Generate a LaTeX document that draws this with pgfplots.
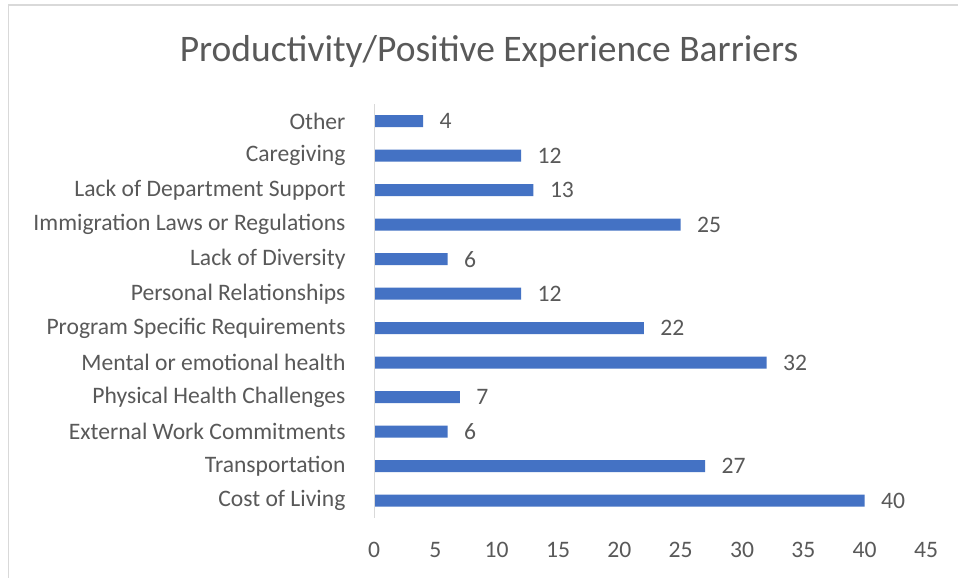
\documentclass[border=0pt]{standalone}
\usepackage{fontspec}
\setmainfont{Carlito}
\usepackage{pgfplots}
\pgfplotsset{compat=1.18}
\definecolor{barblue}{HTML}{4472C4}
\definecolor{txtgray}{HTML}{595959}
\definecolor{linegray}{HTML}{D9D9D9}
\newcommand{\lbl}{\fontsize{23.6}{27}\selectfont}
\begin{document}
\begin{tikzpicture}
\path[use as bounding box] (0pt,0pt) rectangle (958pt,578pt);
\fill[white] (0pt,0pt) rectangle (958pt,578pt);
% chart frame (only top and left edges are in the crop)
\draw[linegray, line width=1.5pt] (8.5pt,0pt) -- (8.5pt,573pt) -- (958pt,573pt);
\node[txtgray, font=\fontsize{37.5}{42}\selectfont] at (489pt,526pt) {Productivity/Positive Experience Barriers};
\begin{axis}[
    at={(374pt,60pt)}, anchor=south west,
    scale only axis,
    width=552pt, height=414pt,
    xbar,
    bar width=12pt,
    xmin=0, xmax=45,
    ymin=-0.5, ymax=11.5,
    xtick={0,5,...,45},
    ytick={0,...,11},
    yticklabels={Cost of Living, Transportation, External Work Commitments, Physical Health Challenges, Mental or emotional health, Program Specific Requirements, Personal Relationships, Lack of Diversity, Immigration Laws or Regulations, Lack of Department Support, Caregiving, Other},
    axis line style={draw=none},
    major tick length=0pt,
    tick label style={txtgray, font=\lbl},
    /pgf/number format/assume math mode=true,
    xticklabel style={yshift=-21pt},
    yticklabel style={xshift=-25pt},
    clip=false,
]
\addplot[fill=barblue, draw=none,
    nodes near coords={\hspace*{13pt}\color{txtgray}\lbl\pgfmathprintnumber{\pgfplotspointmeta}},
    every node near coords/.append style={anchor=west},
] coordinates {
    (40,0) (27,1) (6,2) (7,3) (32,4) (22,5) (12,6) (6,7) (25,8) (13,9) (12,10) (4,11)
};
\draw[linegray, line width=1pt] (axis cs:0,-0.5) -- (axis cs:0,11.5);
\end{axis}
\end{tikzpicture}
\end{document}
